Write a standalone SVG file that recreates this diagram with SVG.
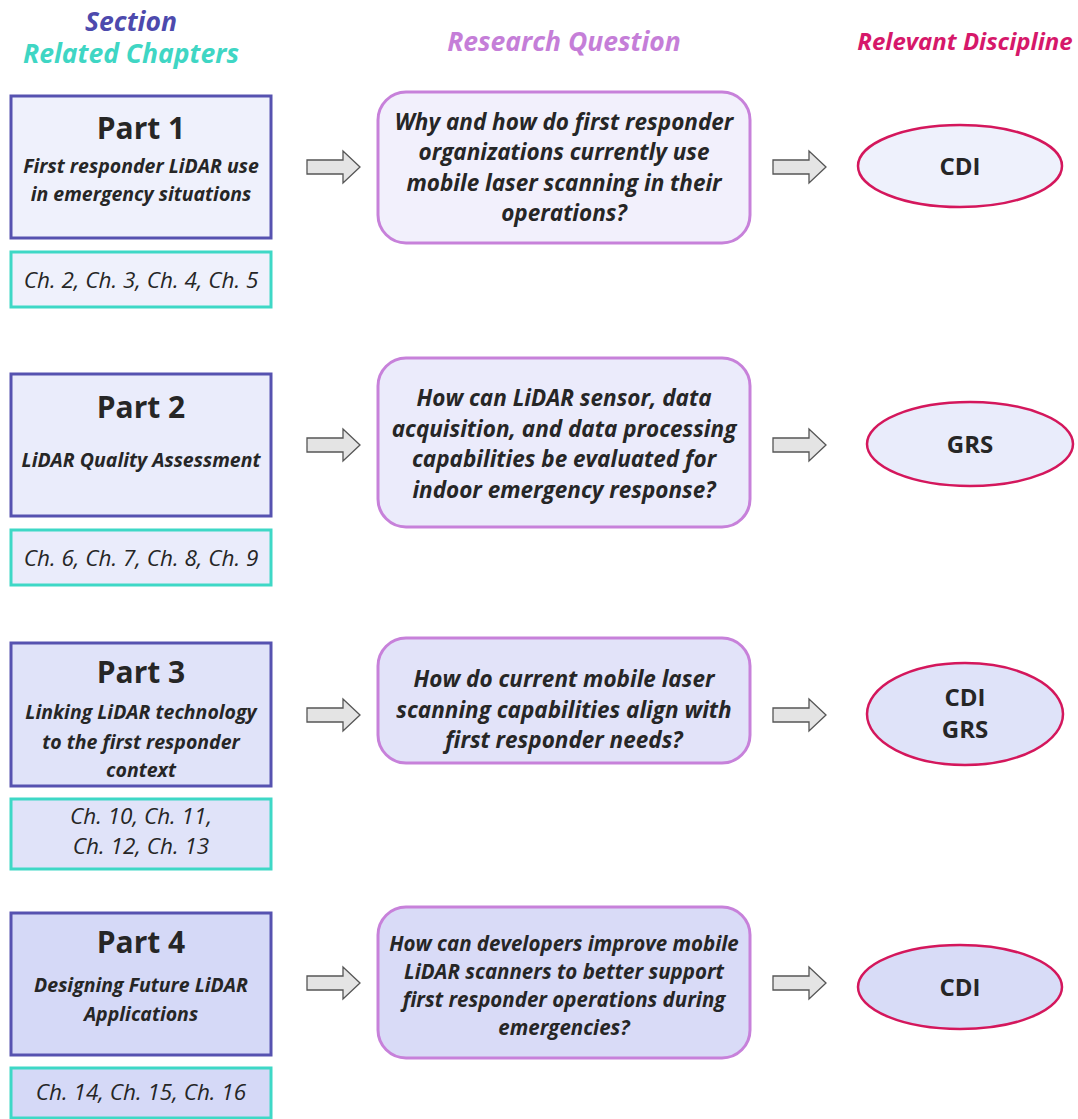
<svg xmlns="http://www.w3.org/2000/svg" width="1078" height="1119" viewBox="0 0 1078 1119">
<defs>
<style>
text{font-family:"Open Sans","Noto Sans","Liberation Sans",sans-serif;fill:#262626;text-anchor:middle}
.hd{font-weight:700;font-style:italic;font-size:26.5px}
.ch{stroke:#3ed8c6;stroke-width:3}
.q{stroke:#c781da;stroke-width:3}
.el{stroke:#d4175c;stroke-width:2.5}
.pt{font-weight:700;font-size:30px}
.sub{font-weight:700;font-style:italic;font-size:19.5px}
.cht{font-style:italic;font-size:22.5px}
.qt{font-weight:700;font-style:italic;font-size:22.5px}
.et{font-weight:700;font-size:24px}
.arr{fill:#e4e4e4;stroke:#555;stroke-width:1.3}
</style>
<path id="a" d="M0,-7 H36 V-16 L53,0 L36,16 V7 H0 Z"/>
</defs>
<rect width="1078" height="1119" fill="#fff"/>
<g id="headers">
<text class="hd" x="131" y="31" style="fill:#4d4aad">Section</text>
<text class="hd" x="131" y="63" style="fill:#3fd6c4">Related Chapters</text>
<text class="hd" x="564" y="51" style="fill:#c57ed8">Research Question</text>
<text class="hd" x="965" y="50" style="fill:#d6186a;font-size:24px">Relevant Discipline</text>
</g>
<g id="connectors">
<use href="#a" class="arr" x="307" y="167"/>
<use href="#a" class="arr" x="773" y="167"/>
<use href="#a" class="arr" x="307" y="445"/>
<use href="#a" class="arr" x="773" y="445"/>
<use href="#a" class="arr" x="307" y="715"/>
<use href="#a" class="arr" x="773" y="715"/>
<use href="#a" class="arr" x="307" y="983"/>
<use href="#a" class="arr" x="773" y="983"/>
</g>
<g id="part1">
<rect x="11" y="96" width="260" height="142" fill="#eff1fc" stroke="#5652b0" stroke-width="3"/>
<text class="pt" x="141" y="139">Part 1</text>
<text class="sub" x="141" y="173">First responder LiDAR use</text>
<text class="sub" x="141" y="201">in emergency situations</text>
</g>
<g id="ch1">
<rect x="11" y="252" width="260" height="55" fill="#eff1fc" class="ch"/>
<text class="cht" x="141" y="288">Ch. 2, Ch. 3, Ch. 4, Ch. 5</text>
</g>
<g id="q1">
<rect x="378" y="92" width="372" height="151" rx="28" fill="#f2f0fc" class="q"/>
<text class="qt" x="564" y="130">Why and how do first responder</text>
<text class="qt" x="564" y="160">organizations currently use</text>
<text class="qt" x="564" y="191">mobile laser scanning in their</text>
<text class="qt" x="564" y="221">operations?</text>
</g>
<g id="d1">
<ellipse cx="960" cy="166" rx="102" ry="41" fill="#eef1fc" class="el"/>
<text class="et" x="960" y="175">CDI</text>
</g>
<g id="part2">
<rect x="11" y="374" width="260" height="142" fill="#eaecfb" stroke="#5652b0" stroke-width="3"/>
<text class="pt" x="141" y="418">Part 2</text>
<text class="sub" x="141" y="467">LiDAR Quality Assessment</text>
</g>
<g id="ch2">
<rect x="11" y="530" width="260" height="55" fill="#eaecfb" class="ch"/>
<text class="cht" x="141" y="566">Ch. 6, Ch. 7, Ch. 8, Ch. 9</text>
</g>
<g id="q2">
<rect x="378" y="358" width="372" height="169" rx="28" fill="#ebebfb" class="q"/>
<text class="qt" x="564" y="406">How can LiDAR sensor, data</text>
<text class="qt" x="564" y="437">acquisition, and data processing</text>
<text class="qt" x="564" y="467">capabilities be evaluated for</text>
<text class="qt" x="564" y="498">indoor emergency response?</text>
</g>
<g id="d2">
<ellipse cx="970" cy="444" rx="103" ry="42" fill="#e9ecfb" class="el"/>
<text class="et" x="970" y="453">GRS</text>
</g>
<g id="part3">
<rect x="11" y="643" width="260" height="143" fill="#e0e3f9" stroke="#5652b0" stroke-width="3"/>
<text class="pt" x="141" y="683">Part 3</text>
<text class="sub" x="141" y="719">Linking LiDAR technology</text>
<text class="sub" x="141" y="749">to the first responder</text>
<text class="sub" x="141" y="777">context</text>
</g>
<g id="ch3">
<rect x="11" y="799" width="260" height="70" fill="#e0e3f9" class="ch"/>
<text class="cht" x="141" y="824">Ch. 10, Ch. 11,</text>
<text class="cht" x="141" y="854">Ch. 12, Ch. 13</text>
</g>
<g id="q3">
<rect x="378" y="638" width="372" height="125" rx="28" fill="#e2e3f9" class="q"/>
<text class="qt" x="564" y="687">How do current mobile laser</text>
<text class="qt" x="564" y="718">scanning capabilities align with</text>
<text class="qt" x="564" y="748">first responder needs?</text>
</g>
<g id="d3">
<ellipse cx="965" cy="714" rx="98" ry="51" fill="#dfe3f9" class="el"/>
<text class="et" x="965" y="706">CDI</text>
<text class="et" x="965" y="738">GRS</text>
</g>
<g id="part4">
<rect x="11" y="913" width="260" height="142" fill="#d5d9f7" stroke="#5652b0" stroke-width="3"/>
<text class="pt" x="141" y="953">Part 4</text>
<text class="sub" x="141" y="992">Designing Future LiDAR</text>
<text class="sub" x="141" y="1021">Applications</text>
</g>
<g id="ch4">
<rect x="11" y="1068" width="260" height="50" fill="#d5d9f7" class="ch"/>
<text class="cht" x="141" y="1100">Ch. 14, Ch. 15, Ch. 16</text>
</g>
<g id="q4">
<rect x="378" y="907" width="372" height="151" rx="28" fill="#d9dbf7" class="q"/>
<text class="qt" x="564" y="951" style="font-size:20.5px">How can developers improve mobile</text>
<text class="qt" x="564" y="979" style="font-size:20.5px">LiDAR scanners to better support</text>
<text class="qt" x="564" y="1007" style="font-size:20.5px">first responder operations during</text>
<text class="qt" x="564" y="1035" style="font-size:20.5px">emergencies?</text>
</g>
<g id="d4">
<ellipse cx="960" cy="987" rx="102" ry="42" fill="#d8dcf7" class="el"/>
<text class="et" x="960" y="996">CDI</text>
</g>
</svg>
